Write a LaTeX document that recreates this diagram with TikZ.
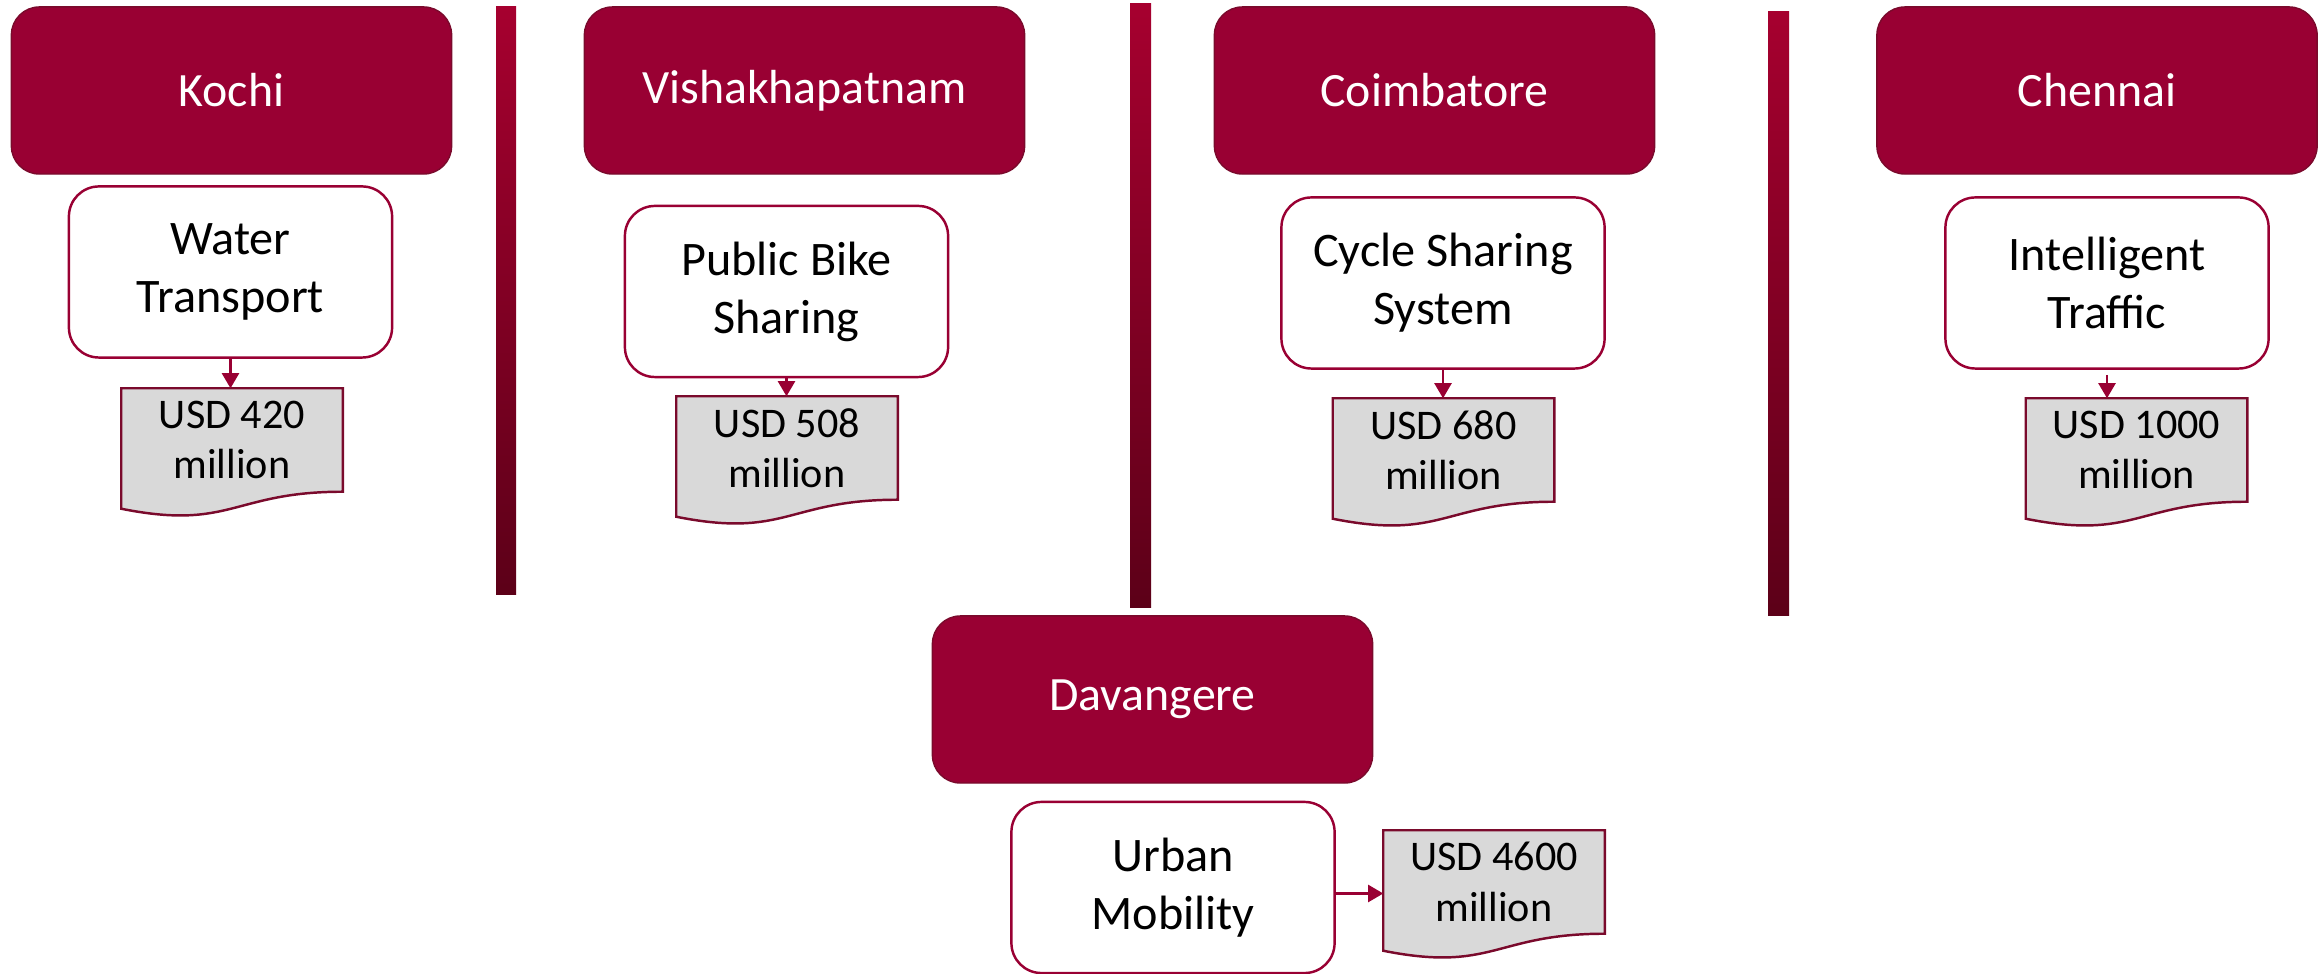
\documentclass[tikz,border=0pt]{standalone}
\usepackage{fontspec}
\setmainfont{Carlito}
\usetikzlibrary{arrows.meta,backgrounds}
\definecolor{wine}{HTML}{990033}
\definecolor{winedark}{HTML}{7A0A2C}
\definecolor{bartop}{HTML}{A6002F}
\definecolor{barbot}{HTML}{5C0018}
\definecolor{docgray}{HTML}{D9D9D9}

\begin{document}
\begin{tikzpicture}[x=0.01cm,y=-0.01cm,
  city/.style={rectangle,rounded corners=0.28cm,fill=wine,draw=winedark,line width=0.4pt,text=white,minimum width=4.4cm,minimum height=1.67cm,font=\fontsize{13.6}{16.5}\selectfont},
  project/.style={rectangle,rounded corners=0.3cm,fill=white,draw=wine,line width=0.7pt,minimum width=3.23cm,minimum height=1.71cm,align=center,font=\fontsize{13.7}{16.5}\selectfont},
  cost/.style={rectangle,minimum width=2.2cm,minimum height=1.02cm,inner sep=0pt,align=center,font=\fontsize{12}{14.3}\selectfont},
  docline/.style={fill=docgray,draw=winedark,line width=0.7pt},
  link/.style={draw=wine,line width=0.6pt,-{Triangle[width=0.17cm,length=0.15cm]}}]
\useasboundingbox (0,0) rectangle (2318,974);

% separators
\shade [top color=bartop,bottom color=barbot] (496,7) rectangle (516,595);
\shade [top color=bartop,bottom color=barbot] (1130,4) rectangle (1151,608);
\shade [top color=bartop,bottom color=barbot] (1768,12) rectangle (1789,616);

% cities
\node [city] (kochi) at (231.5,90.5) {Kochi};
\node [city] (vizag) at (804.5,90.5) {Vishakhapatnam};
\node [city] (coimbatore) at (1434.5,90.5) {Coimbatore};
\node [city] (chennai) at (2097,90.5) {Chennai};
\node [city] (davangere) at (1152.5,699.5) {Davangere};

% projects
\node [project] (water) at (230.5,272) {Water\\Transport};
\node [project] (bike) at (786.5,291.5) {Public Bike\\Sharing};
\node [project] (cycle) at (1443,283) {Cycle Sharing\\System};
\node [project] (traffic) at (2107,283) {Intelligent\\Traffic};
\node [project] (urban) at (1173,887.5) {Urban\\Mobility};

% costs
\node [cost] (usdkochi) at (232,440) {USD 420\\million};
\node [cost] (usdvizag) at (787,448) {USD 508\\million};
\node [cost] (usdcoimbatore) at (1443.5,450) {USD 680\\million};
\node [cost] (usdchennai) at (2136.5,450) {USD 1000\\million};
\node [cost] (usddavangere) at (1494,882) {USD 4600\\million};

\begin{scope}[on background layer]
\foreach \d in {usdkochi,usdvizag,usdcoimbatore,usdchennai,usddavangere}
  \draw [docline] (\d.south east) .. controls +(-110,0) and +(110,22) .. ([yshift=-0.17cm]\d.south west) -- (\d.north west) -- (\d.north east) -- cycle;
\end{scope}

\draw [link] (water.south) -- (water.south |- usdkochi.north);
\draw [link] (bike.south) -- (bike.south |- usdvizag.north);
\draw [link] (cycle.south) -- (cycle.south |- usdcoimbatore.north);
\draw [link] ([yshift=-0.05cm]traffic.south) -- (traffic.south |- usdchennai.north);
\draw [link] ([yshift=-0.06cm]urban.east) -- ([yshift=-0.06cm]urban.east -| usddavangere.west);
\end{tikzpicture}
\end{document}
